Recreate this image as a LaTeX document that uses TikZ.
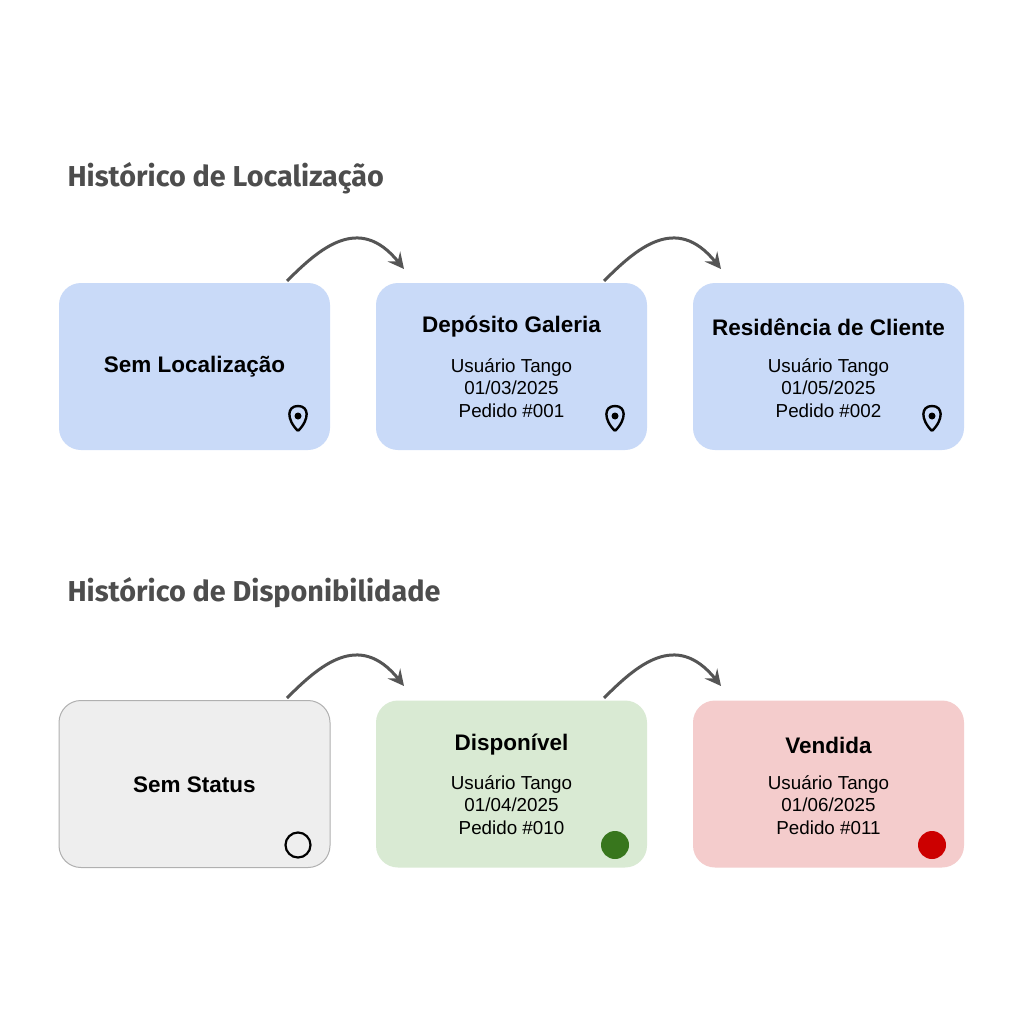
\documentclass[tikz,border=0pt]{standalone}
\usepackage{fontspec}
\setmainfont{Liberation Sans}
\newfontfamily\titlefont{Fira Sans}
\usetikzlibrary{arrows.meta}
\definecolor{bl}{HTML}{C9DAF8}
\definecolor{gr}{HTML}{EEEEEE}
\definecolor{gn}{HTML}{D9EAD3}
\definecolor{rd}{HTML}{F4CCCC}
\definecolor{tt}{HTML}{4D4D4D}
\definecolor{ar}{HTML}{555555}
\definecolor{dgn}{HTML}{38761D}
\definecolor{drd}{HTML}{CC0000}
\definecolor{gbord}{HTML}{B0B0B0}
\tikzset{
 card/.style={rounded corners=22pt,minimum width=271pt,minimum height=167pt,inner sep=0pt},
 ttl/.style={anchor=west,text=tt,font=\titlefont\bfseries\fontsize{28.8}{32}\selectfont},
 hd/.style={font=\bfseries\fontsize{22.5}{25}\selectfont},
 bd/.style={font=\fontsize{18.8}{22.5}\selectfont,align=center},
 flow/.style={draw=ar,line width=3pt,-{Stealth[length=16pt,width=16pt,inset=6pt]}},
}
\newcommand{\pinicon}[2]{%
 \draw[line width=2.4pt] (#1,#2+13) .. controls (#1-12,#2+1) and (#1-11,#2-12) .. (#1,#2-12) .. controls (#1+11,#2-12) and (#1+12,#2+1) .. (#1,#2+13);
 \fill (#1,#2-2) circle (3.5pt);}
\begin{document}
\begin{tikzpicture}[x=1pt,y=-1pt]
\path[use as bounding box,fill=white] (0,0) rectangle (1024,1024);
\node[ttl] (t1) at (64,178) {Histórico de Localização};
\node[ttl] (t2) at (64,593) {Histórico de Disponibilidade};
% row 1
\node[card,fill=bl] (a1) at (194.5,366.5) {};
\node[card,fill=bl] (a2) at (511.5,366.5) {};
\node[card,fill=bl] (a3) at (828.5,366.5) {};
\node[hd] (a1h) at (194.5,367) {Sem Localização};
\node[hd] (a2h) at (511.5,327) {Depósito Galeria};
\node[bd] (a2b) at (511.5,388) {Usuário Tango\\01/03/2025\\Pedido \#001};
\node[hd] (a3h) at (828.5,327) {Residência de Cliente};
\node[bd] (a3b) at (828.5,388) {Usuário Tango\\01/05/2025\\Pedido \#002};
\pinicon{298}{418}
\pinicon{615}{418}
\pinicon{932}{418}
% row 2
\node[card,fill=gr,draw=gbord,line width=1pt] (b1) at (194.5,784) {};
\node[card,fill=gn] (b2) at (511.5,784) {};
\node[card,fill=rd] (b3) at (828.5,784) {};
\node[hd] (b1h) at (194.5,785) {Sem Status};
\node[hd] (b2h) at (511.5,745) {Disponível};
\node[bd] (b2b) at (511.5,805) {Usuário Tango\\01/04/2025\\Pedido \#010};
\node[hd] (b3h) at (828.5,745) {Vendida};
\node[bd] (b3b) at (828.5,805) {Usuário Tango\\01/06/2025\\Pedido \#011};
\draw[line width=2.2pt] (298,845) circle (12.5pt);
\fill[dgn] (615,845) circle (14pt);
\fill[drd] (932,845) circle (14pt);
% arrows
\coordinate (s1) at (287,281); \coordinate (e1) at (404,269);
\coordinate (s2) at (604,281); \coordinate (e2) at (721,269);
\coordinate (s3) at (287,698); \coordinate (e3) at (404,686);
\coordinate (s4) at (604,698); \coordinate (e4) at (721,686);
\foreach \s/\e in {s1/e1,s2/e2,s3/e3,s4/e4}
 \draw[flow] (\s) .. controls ([shift={(32,-32)}]\s) and ([shift={(-45,-56)}]\e) .. (\e);
\end{tikzpicture}
\end{document}
